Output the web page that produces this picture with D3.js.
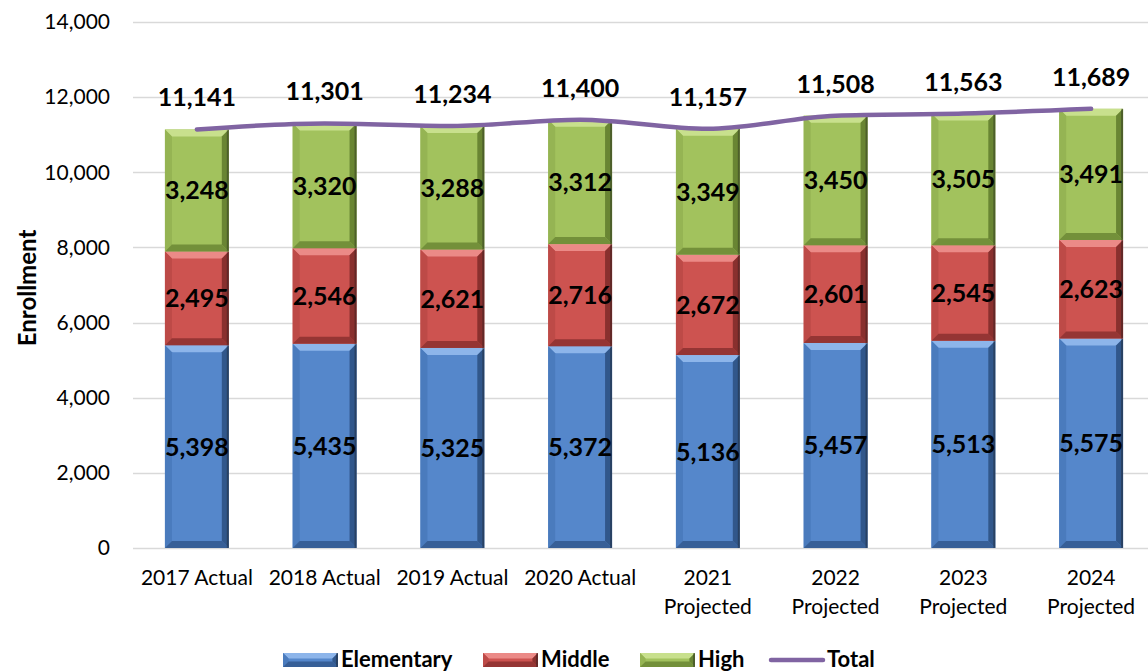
<!DOCTYPE html>
<html>
<head>
<meta charset="utf-8">
<script src="https://cdn.jsdelivr.net/npm/d3@7"></script>
<style>
  html, body { margin: 0; padding: 0; background: #fff; }
  svg { display: block; font-family: Lato, "Open Sans", sans-serif; }
</style>
</head>
<body>
<svg id="chart" width="1148" height="671"></svg>
<script>
// Enrollment by school level, actual and projected
const categories = [
  ["2017 Actual"], ["2018 Actual"], ["2019 Actual"], ["2020 Actual"],
  ["2021", "Projected"], ["2022", "Projected"], ["2023", "Projected"], ["2024", "Projected"]
];
const elementary = [5398, 5435, 5325, 5372, 5136, 5457, 5513, 5575];
const middle     = [2495, 2546, 2621, 2716, 2672, 2601, 2545, 2623];
const high       = [3248, 3320, 3288, 3312, 3349, 3450, 3505, 3491];
const total      = [11141, 11301, 11234, 11400, 11157, 11508, 11563, 11689];
const yTicks     = [0, 2000, 4000, 6000, 8000, 10000, 12000, 14000];
const seriesNames = ["Elementary", "Middle", "High"];

const palette = {
  Elementary: { base: "#5587cb", light: "#8db5ea", dark: "#2b4f80", side: "#4a7bbd" },
  Middle:     { base: "#cd5350", light: "#eb8a87", dark: "#7d2a28", side: "#bd4a47" },
  High:       { base: "#a2c25d", light: "#c8e08d", dark: "#5f7a2c", side: "#95b453" },
  Total: "#8064a2"
};

const svg = d3.select("#chart");
const margin = { left: 133, right: -7, top: 22, bottom: 123 };
const W = 1148, H = 671;

const labels = categories.map(c => c.join(" "));
const x = d3.scaleBand().domain(labels).range([margin.left, W - margin.right]).paddingInner(0.5).paddingOuter(0.25);
const y = d3.scaleLinear().domain([0, 14000]).range([H - margin.bottom, margin.top]);

// gridlines
svg.append("g").selectAll("line").data(yTicks).join("line")
  .attr("x1", margin.left).attr("x2", W)
  .attr("y1", d => Math.round(y(d)) + 0.5).attr("y2", d => Math.round(y(d)) + 0.5)
  .attr("stroke", "#d9d9d9").attr("stroke-width", 1.5);

// y axis tick labels
const yAxis = d3.axisLeft(y).tickValues(yTicks).tickFormat(d3.format(",")).tickSize(0).tickPadding(0);
const gy = svg.append("g").attr("transform", `translate(${margin.left - 23},0)`).call(yAxis);
gy.select(".domain").remove();
gy.selectAll("text").attr("font-size", 21).attr("fill", "#000").style("font-family", "Lato, sans-serif");

// y axis title
svg.append("text")
  .attr("transform", `translate(27,${(y(0) + y(14000)) / 2 + 3}) rotate(-90)`)
  .attr("text-anchor", "middle").attr("font-size", 24).attr("font-weight", "bold")
  .attr("dy", "0.36em")
  .text("Enrollment");

// stacked data
const rows = labels.map((l, i) => ({ label: l, Elementary: elementary[i], Middle: middle[i], High: high[i] }));
const stack = d3.stack().keys(seriesNames)(rows);

const bev = 7;
function drawBevelRect(g, x0, y0, w, h, col) {
  const b = Math.min(bev, h / 2.5, w / 2.5);
  g.append("rect").attr("x", x0).attr("y", y0).attr("width", w).attr("height", h).attr("fill", col.base);
  // top bevel
  g.append("polygon").attr("points", [[x0, y0], [x0 + w, y0], [x0 + w - b, y0 + b], [x0 + b, y0 + b]].join(" "))
    .attr("fill", col.light);
  // left bevel
  g.append("polygon").attr("points", [[x0, y0], [x0 + b, y0 + b], [x0 + b, y0 + h - b], [x0, y0 + h]].join(" "))
    .attr("fill", col.side);
  // right bevel
  g.append("polygon").attr("points", [[x0 + w, y0], [x0 + w, y0 + h], [x0 + w - b, y0 + h - b], [x0 + w - b, y0 + b]].join(" "))
    .attr("fill", col.dark).attr("opacity", 0.85);
  // bottom bevel
  g.append("polygon").attr("points", [[x0, y0 + h], [x0 + b, y0 + h - b], [x0 + w - b, y0 + h - b], [x0 + w, y0 + h]].join(" "))
    .attr("fill", col.dark).attr("opacity", 0.7);
  // dark right edge shading
  g.append("rect").attr("x", x0 + w - 2).attr("y", y0).attr("width", 2).attr("height", h).attr("fill", "#1a1a1a").attr("opacity", 0.35);
}

const barsG = svg.append("g");
stack.forEach(layer => {
  const col = palette[layer.key];
  layer.forEach((d, i) => {
    const x0 = x(labels[i]);
    const y1 = y(d[1]), y0 = y(d[0]);
    drawBevelRect(barsG, x0, y1, x.bandwidth(), y0 - y1, col);
  });
});

// segment value labels
const labG = svg.append("g").attr("font-weight", "bold").attr("font-size", 25).attr("text-anchor", "middle");
stack.forEach(layer => {
  layer.forEach((d, i) => {
    labG.append("text")
      .attr("x", x(labels[i]) + x.bandwidth() / 2)
      .attr("y", y((d[0] + d[1]) / 2))
      .attr("dy", "0.36em")
      .text(d3.format(",")(d[1] - d[0]));
  });
});

// total line
const line = d3.line().x((d, i) => x(labels[i]) + x.bandwidth() / 2).y(d => y(d)).curve(d3.curveMonotoneX);
svg.append("path").datum(total).attr("d", line)
  .attr("fill", "none").attr("stroke", palette.Total).attr("stroke-width", 4.5).attr("stroke-linecap", "round");

// total labels
svg.append("g").attr("font-weight", "bold").attr("font-size", 25).attr("text-anchor", "middle")
  .selectAll("text").data(total).join("text")
  .attr("x", (d, i) => x(labels[i]) + x.bandwidth() / 2)
  .attr("y", d => y(d) - 32).attr("dy", "0.36em")
  .text(d3.format(","));

// x axis labels
const xl = svg.append("g").attr("font-size", 21).attr("text-anchor", "middle");
categories.forEach((c, i) => {
  const t = xl.append("text").attr("x", x(labels[i]) + x.bandwidth() / 2).attr("y", 585);
  c.forEach((s, j) => t.append("tspan").attr("x", x(labels[i]) + x.bandwidth() / 2).attr("dy", j === 0 ? 0 : 29).text(s));
});

// legend
const legend = svg.append("g").attr("font-size", 22).attr("font-weight", "bold");
const legendItems = [
  { name: "Elementary", x: 283 },
  { name: "Middle", x: 483 },
  { name: "High", x: 640 },
  { name: "Total", x: 769 }
];
legendItems.forEach(it => {
  if (it.name === "Total") {
    legend.append("line").attr("x1", it.x + 2).attr("x2", it.x + 54).attr("y1", 660).attr("y2", 660)
      .attr("stroke", palette.Total).attr("stroke-width", 4.5).attr("stroke-linecap", "round");
  } else {
    const lg = legend.append("g");
    drawBevelRect(lg, it.x, 653, 55, 14, palette[it.name]);
  }
  legend.append("text").attr("x", it.x + 58).attr("y", 659).attr("dy", "0.36em").text(it.name);
});
</script>
</body>
</html>
